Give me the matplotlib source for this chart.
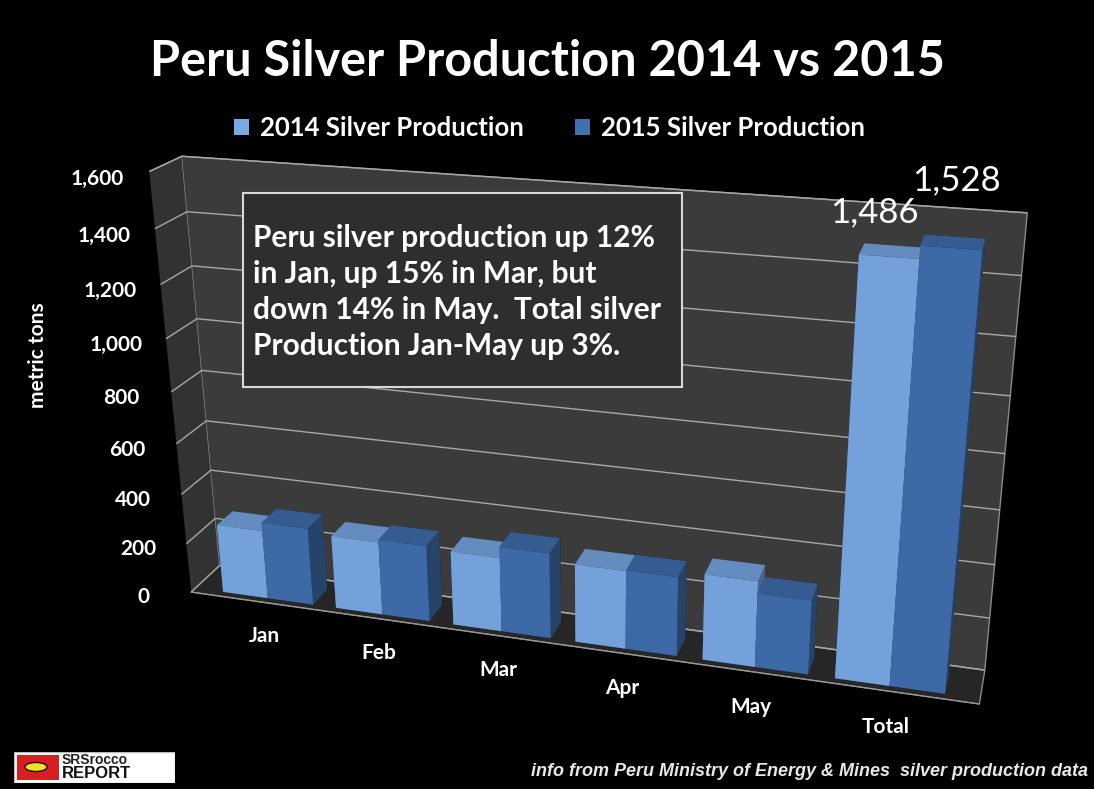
import matplotlib
matplotlib.use("Agg")
import matplotlib.pyplot as plt
from matplotlib.patches import Patch, Rectangle, Ellipse
from matplotlib.colors import LightSource
import numpy as np

# ---- data -------------------------------------------------------------
months = ["Jan", "Feb", "Mar", "Apr", "May", "Total"]
prod_2014 = [275, 290, 290, 303, 328, 1486]
prod_2015 = [308, 300, 333, 305, 282, 1528]
series_names = ["2014 Silver Production", "2015 Silver Production"]
z_ticks = [0, 200, 400, 600, 800, 1000, 1200, 1400, 1600]
z_tick_labels = ["0", "200", "400", "600", "800", "1,000", "1,200", "1,400", "1,600"]
note = ("Peru silver production up 12%\n"
        "in Jan, up 15% in Mar, but\n"
        "down 14% in May.  Total silver\n"
        "Production Jan-May up 3%.")

# ---- style ------------------------------------------------------------
plt.rcParams["font.family"] = ["Lato", "DejaVu Sans"]
c2014 = "#7AAAE6"
c2015 = "#4070B0"
W, H = 1094, 789

fig = plt.figure(figsize=(W / 100, H / 100), dpi=100, facecolor="black")
ax = fig.add_axes([0.036, 0.045, 0.95, 0.82], projection="3d",
                  proj_type="persp", focal_length=0.5)
ax.set_facecolor("black")
ax.view_init(elev=22, azim=-73, roll=0.5)

# ---- bars (one collection per bar so they stack correctly) ------------
x = np.arange(len(months))
bw = 0.4
depth = 0.55
y0 = 0.15
light = LightSource(azdeg=190, altdeg=30)
for xi, v14, v15 in zip(x, prod_2014, prod_2015):
    ax.bar3d(xi - bw, y0, 0, bw, depth, v14, color=c2014, shade=True,
             lightsource=light)
    ax.bar3d(xi, y0, 0, bw, depth, v15, color=c2015, shade=True,
             lightsource=light)
# the scene reaches past the square axes box; keep every bar whole
for coll in ax.collections:
    coll.set_clip_on(False)

ax.set_xlim(-0.65, len(months) - 0.35)
ax.set_ylim(0, 1)
ax.set_zlim(0, 1600)
ax.set_box_aspect((6.3, 0.5, 3.5), zoom=1.46)

# ---- panes, grid, axes ------------------------------------------------
ax.xaxis.set_pane_color("#323232")
ax.yaxis.set_pane_color("#3b3b3b")
ax.zaxis.set_pane_color("#262626")
for a in (ax.xaxis, ax.yaxis, ax.zaxis):
    a.pane.set_edgecolor("#8a8a8a")
    a._axinfo["tick"]["inward_factor"] = 0.0
    a._axinfo["tick"]["outward_factor"] = 0.0
ax.xaxis._axinfo["grid"].update(color=(0, 0, 0, 0))
ax.yaxis._axinfo["grid"].update(color=(0, 0, 0, 0))
ax.zaxis._axinfo["grid"].update(color="#a8a8a8", linewidth=1.0)
ax.xaxis.line.set_color("#9a9a9a")
ax.yaxis.line.set_color((0, 0, 0, 0))
ax.zaxis.line.set_color((0, 0, 0, 0))
ax.zaxis.set_ticks_position("lower")

ax.set_xticks(x)
ax.set_xticklabels(months, color="white", fontweight="bold", fontsize=15)
ax.set_yticks([])
ax.set_zticks(z_ticks)
ax.set_zticklabels(z_tick_labels, color="white", fontweight="bold", fontsize=15)
ax.tick_params(axis="x", pad=6)
ax.tick_params(axis="z", pad=8)

# value labels on the Total bars
ax.text(x[-1] - bw / 2 - 0.11, y0, prod_2014[-1] + 85, f"{prod_2014[-1]:,}",
        color="white", fontsize=25, ha="center", va="bottom", zorder=50)
ax.text(x[-1] + bw / 2 + 0.01, y0, prod_2015[-1] + 160, f"{prod_2015[-1]:,}",
        color="white", fontsize=25, ha="center", va="bottom", zorder=50)

# ---- titles, legend, notes --------------------------------------------
fig.text(0.5, 1 - 62 / H, "Peru Silver Production 2014 vs 2015", color="white",
         fontsize=35, fontweight="bold", ha="center", va="center")

handles = [Patch(facecolor=c2014, edgecolor="none"), Patch(facecolor=c2015, edgecolor="none")]
fig.legend(handles, series_names, loc="center", bbox_to_anchor=(0.502, 1 - 128 / H),
           ncol=2, frameon=False, labelcolor="white", handlelength=0.6, handleheight=0.6,
           handletextpad=0.4, columnspacing=2.0,
           prop={"weight": "bold", "size": 18.5})

fig.text(38 / W, 1 - 355 / H, "metric tons", color="white", fontsize=15,
         fontweight="bold", rotation=90, ha="center", va="center")

fig.add_artist(Rectangle((243 / W, 1 - 387 / H), (682 - 243) / W, (387 - 193) / H,
                         transform=fig.transFigure, facecolor="#2e2e2e",
                         edgecolor="#d8d8d8", linewidth=1.5, zorder=5))
fig.text(253 / W, 1 - 292 / H, note, color="white", fontsize=21.5, fontweight="bold",
         ha="left", va="center", linespacing=1.35, zorder=6)

fig.text(1088 / W, 1 - 772 / H, "info from Peru Ministry of Energy & Mines  silver production data",
         color="#e8e8e8", fontsize=13, fontweight="bold", fontstyle="italic",
         family=["Liberation Sans Narrow", "Liberation Sans", "DejaVu Sans"],
         ha="right", va="center")

# ---- publisher badge --------------------------------------------------
logo = fig.add_axes([14 / W, 1 - 783 / H, 161 / W, 31 / H])
logo.set_xlim(0, 161)
logo.set_ylim(0, 31)
logo.axis("off")
logo.add_patch(Rectangle((0, 0), 161, 31, facecolor="white", edgecolor="#bbbbbb"))
logo.add_patch(Rectangle((3, 3), 42, 25, facecolor="#d81e1e", edgecolor="none"))
logo.add_patch(Ellipse((22, 16), 22, 9, facecolor="#f2e21c", edgecolor="#111111", lw=1))
logo.text(48, 23, "SRSrocco", fontsize=10, fontweight="bold", color="#222222",
          family=["Liberation Sans", "DejaVu Sans"], ha="left", va="center")
logo.text(48, 9, "REPORT", fontsize=12, fontweight="bold", color="#111111",
          family=["Liberation Sans", "DejaVu Sans"], ha="left", va="center")

fig.savefig("out.png", dpi=100, facecolor="black")
